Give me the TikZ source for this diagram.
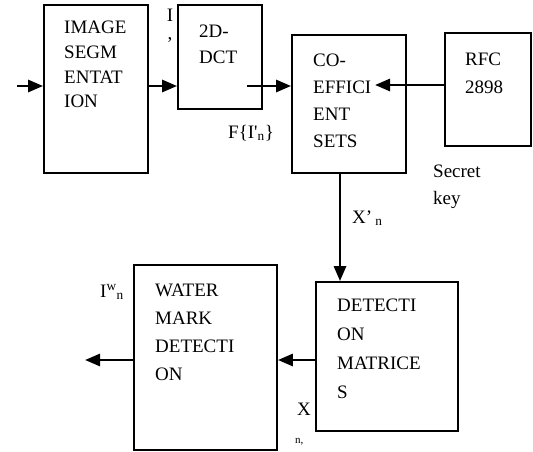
\documentclass[tikz,border=0pt]{standalone}
\usepackage{fontspec}
\setmainfont{Liberation Serif}
\usetikzlibrary{positioning,arrows.meta}
\tikzset{
  flow/.style={-{Triangle[length=15pt,width=12pt]},line width=2.8pt},
  blk/.style={draw,line width=1.8pt,inner sep=0pt},
  blktext/.style={anchor=north west,inner sep=0pt,align=left},
  lbl/.style={inner sep=0pt,font=\fontsize{19}{27}\selectfont}
}

\begin{document}
\begin{tikzpicture}[x=1pt,y=-1pt]
  \useasboundingbox (0,0) rectangle (533,452);
  % blocks
  \node[blk,minimum width=104pt,minimum height=168pt] (seg) at (96,89) {};
  \node[blk,minimum width=84pt,minimum height=104pt] (dct) at (220,57) {};
  \node[blk,minimum width=114pt,minimum height=138pt] (coef) at (349,104) {};
  \node[blk,minimum width=86pt,minimum height=113pt] (rfc) at (488,89.5) {};
  \node[blk,minimum width=142pt,minimum height=149pt] (det) at (387,356.5) {};
  \node[blk,minimum width=143pt,minimum height=185pt] (wm) at (205.5,357.5) {};
  % block texts
  \node[blktext,font=\fontsize{19}{24.7}\selectfont] (segtxt) at (64,21) {IMAGE\\SEGM\\ENTAT\\ION};
  \node[blktext,font=\fontsize{19}{26}\selectfont] (dcttxt) at (199,25) {2D-\\DCT};
  \node[blktext,font=\fontsize{19}{27}\selectfont] (coeftxt) at (313,54) {CO-\\EFFICI\\ENT\\SETS};
  \node[blktext,font=\fontsize{19}{28}\selectfont] (rfctxt) at (465,53) {RFC\\2898};
  \node[blktext,font=\fontsize{19}{29}\selectfont] (dettxt) at (337,299) {DETECTI\\ON\\MATRICE\\S};
  \node[blktext,font=\fontsize{19}{28}\selectfont] (wmtxt) at (155,284) {WATER\\MARK\\DETECTI\\ON};
  % labels
  \node[lbl,font=\fontsize{19}{18}\selectfont,align=center,anchor=north] (ilbl) at (170,9) {I\\,};
  \node[lbl,anchor=base west] (flbl) at (228,138) {F\{I\textquotesingle\textsubscript{n}\}};
  \node[lbl,anchor=north west,align=left] (keylbl) at (433,165) {Secret\\key};
  \node[lbl,anchor=base west] (xnlbl) at (352,223) {X’\,\textsubscript{n}};
  \node[lbl,anchor=base west] (iwlbl) at (100,297) {I\textsuperscript{w}\textsubscript{n}};
  \node[lbl,anchor=base west] (xlbl) at (297,415) {X};
  \node[lbl,font=\fontsize{11}{13}\selectfont,anchor=base west] (nlbl) at (295,443) {n,};
  % connectors
  \coordinate (in) at (17,86);
  \coordinate (dctout) at (247,86);
  \coordinate (keyin) at (375,85);
  \coordinate (out) at (85,360);
  \draw[flow] (in) -- (seg.west |- in);
  \draw[flow] (seg.east |- in) -- (dct.west |- in);
  \draw[flow] (dctout) -- (coef.west |- dctout);
  \draw[flow] (rfc.west |- keyin) -- (keyin);
  \draw[flow] ([xshift=-9pt]coef.south) -- ([xshift=-9pt]coef.south |- det.north);
  \draw[flow] (det.west |- out) -- (wm.east |- out);
  \draw[flow] (wm.west |- out) -- (out);
\end{tikzpicture}
\end{document}
